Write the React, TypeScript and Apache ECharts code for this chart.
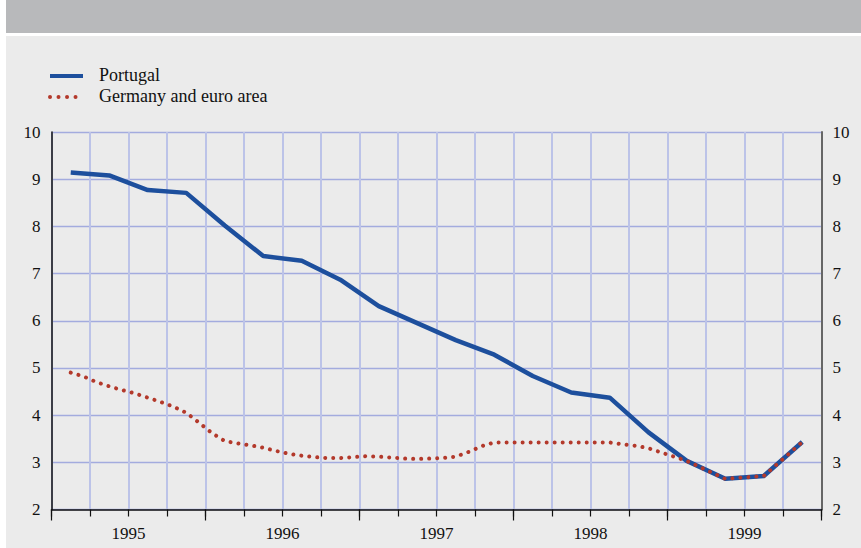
import React, { useEffect, useRef } from "react";
import * as echarts from "echarts";

const years = ["1995", "1996", "1997", "1998", "1999"];
const monthNames = ["Jan", "Feb", "Mar", "Apr", "May", "Jun", "Jul", "Aug", "Sep", "Oct", "Nov", "Dec"];
const months: string[] = [];
years.forEach((y) => monthNames.forEach((m) => months.push(`${m} ${y}`)));

// Portugal: quarterly readings (plotted at mid-quarter months Feb, May, Aug, Nov)
const portugal: (number | null)[] = [
  null, 9.14, null, null, 9.08, null, null, 8.77, null, null, 8.71, null,
  null, 8.02, null, null, 7.37, null, null, 7.27, null, null, 6.87, null,
  null, 6.31, null, null, 5.95, null, null, 5.59, null, null, 5.28, null,
  null, 4.83, null, null, 4.48, null, null, 4.37, null, null, 3.64, null,
  null, 3.03, null, null, 2.65, null, null, 2.71, null, null, 3.43, null,
];

// Germany and euro area: monthly readings
const germany: (number | null)[] = [
  null, 4.90, 4.82, 4.70, 4.61, 4.53, 4.46, 4.37, 4.28, 4.18, 4.05, 3.84,
  3.62, 3.45, 3.40, 3.36, 3.31, 3.24, 3.18, 3.14, 3.11, 3.09, 3.09, 3.11,
  3.13, 3.12, 3.10, 3.08, 3.07, 3.08, 3.09, 3.12, 3.22, 3.34, 3.42, 3.42,
  3.42, 3.42, 3.42, 3.42, 3.42, 3.42, 3.42, 3.42, 3.38, 3.35, 3.30, 3.21,
  3.12, 3.03, null, null, 2.65, null, null, 2.71, null, null, 3.43, null,
];

const seriesNames = ["Portugal", "Germany and euro area"];
const FONT = "Liberation Serif";
const TEXT = "#111";
const BLUE = "#1d4f9d";
const RED = "#b3392b";

export default function App() {
  const ref = useRef<HTMLDivElement>(null);
  useEffect(() => {
    if (!ref.current) return;
    const chart = echarts.init(ref.current, undefined, { renderer: "svg" });
    const gridRect = { left: 51.5, right: 39.5, top: 132, bottom: 38.5 };
    chart.setOption({
      animation: false,
      backgroundColor: "#ffffff",
      textStyle: { fontFamily: FONT },
      graphic: [
        { type: "rect", z: -10, silent: true, shape: { x: 6, y: 0, width: 855, height: 33 }, style: { fill: "#b8b9bb" } },
        { type: "rect", z: -10, silent: true, shape: { x: 6, y: 36, width: 855, height: 512 }, style: { fill: "#ebebeb" } },
        { type: "line", shape: { x1: 50, y1: 76, x2: 83, y2: 76 }, style: { stroke: BLUE, lineWidth: 4 } },
        { type: "text", x: 99, y: 75, style: { text: seriesNames[0], fontSize: 18, fontFamily: FONT, fill: TEXT, verticalAlign: "middle" } },
        { type: "line", shape: { x1: 50, y1: 97, x2: 84, y2: 97 }, style: { stroke: RED, lineWidth: 4, lineDash: [0.01, 8.5], lineCap: "round" } },
        { type: "text", x: 99, y: 96, style: { text: seriesNames[1], fontSize: 18, fontFamily: FONT, fill: TEXT, verticalAlign: "middle" } },
      ],
      grid: [
        { ...gridRect, containLabel: false },
        { ...gridRect, containLabel: false },
      ],
      xAxis: [
        {
          type: "category",
          gridIndex: 0,
          data: months,
          boundaryGap: true,
          axisLine: { show: true, lineStyle: { color: "#111", width: 1.5 } },
          axisTick: { show: true, length: 7, interval: (i: number) => i % 3 === 0, lineStyle: { color: "#111", width: 1.2 } },
          axisLabel: { show: false },
          splitLine: { show: true, interval: (i: number) => i % 3 === 0, lineStyle: { color: "#bcc3e8", width: 2 } },
        },
        {
          type: "category",
          gridIndex: 1,
          data: years,
          boundaryGap: true,
          axisLine: { show: false },
          axisTick: { show: true, length: 11, lineStyle: { color: "#111", width: 1.2 } },
          axisLabel: { show: true, margin: 15, fontSize: 17, fontFamily: FONT, color: TEXT },
          splitLine: { show: false },
        },
      ],
      yAxis: [
        {
          type: "value",
          gridIndex: 0,
          position: "left",
          min: 2,
          max: 10,
          interval: 1,
          axisLine: { show: true, lineStyle: { color: "#111", width: 1.5 } },
          axisTick: { show: false },
          axisLabel: { margin: 11, fontSize: 17, fontFamily: FONT, color: TEXT },
          splitLine: { show: true, lineStyle: { color: "#a3abde", width: 1.3 } },
        },
        {
          type: "value",
          gridIndex: 0,
          position: "right",
          min: 2,
          max: 10,
          interval: 1,
          axisLine: { show: true, lineStyle: { color: "#666", width: 2 } },
          axisTick: { show: false },
          axisLabel: { margin: 11, fontSize: 17, fontFamily: FONT, color: TEXT },
          splitLine: { show: false },
        },
        { type: "value", gridIndex: 1, show: false, min: 2, max: 10 },
      ],
      series: [
        {
          name: seriesNames[0],
          type: "line",
          xAxisIndex: 0,
          yAxisIndex: 0,
          data: portugal,
          connectNulls: true,
          showSymbol: false,
          symbol: "none",
          lineStyle: { color: BLUE, width: 4.5, join: "round" },
          z: 3,
        },
        {
          name: seriesNames[1],
          type: "line",
          xAxisIndex: 0,
          yAxisIndex: 0,
          data: germany,
          connectNulls: true,
          showSymbol: false,
          symbol: "none",
          lineStyle: { color: RED, width: 4, type: [0.01, 8], cap: "round" },
          z: 4,
        },
      ],
    });
    return () => chart.dispose();
  }, []);
  return <div ref={ref} style={{ position: "absolute", left: 0, top: 0, width: 861, height: 548 }} />;
}
